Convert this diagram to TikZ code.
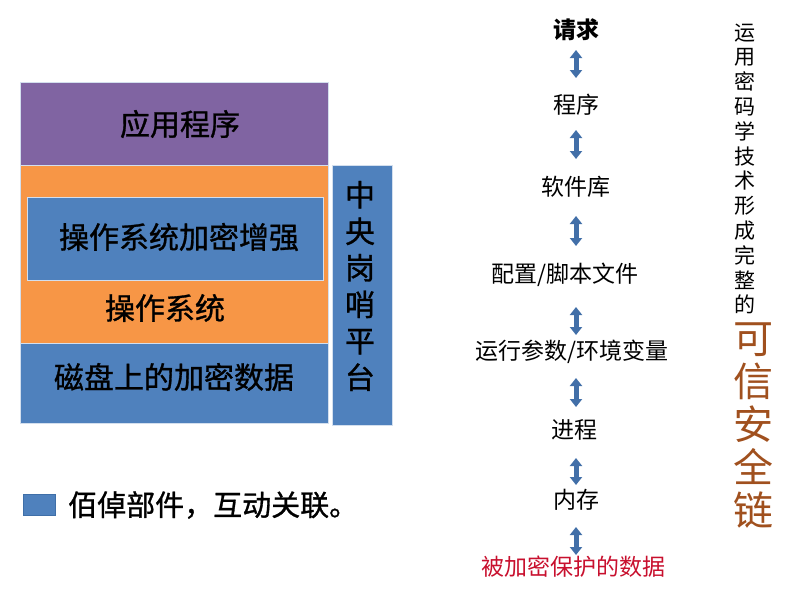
\documentclass[tikz,border=0pt]{standalone}
\usepackage{fontspec}
\setmainfont{Noto Sans CJK SC}
\newfontfamily\heavycjk[FakeBold=1]{Noto Sans CJK SC}
\usetikzlibrary{arrows.meta}
\definecolor{appPurple}{HTML}{8064A2}
\definecolor{osOrange}{HTML}{F79646}
\definecolor{layerBlue}{HTML}{4F81BD}
\definecolor{edgeBlue}{HTML}{3F6FA8}
\definecolor{arrowBlue}{HTML}{426FA8}
\definecolor{dataRed}{HTML}{C8102E}
\definecolor{chainBrown}{HTML}{A0501E}
\tikzset{
  layer/.style={draw=white!75!layerBlue, line width=0.5pt, inner sep=0pt, anchor=north west},
  bigtxt/.style={font=\heavycjk\fontsize{30}{36}\selectfont, inner sep=0pt},
  steptxt/.style={font=\fontsize{23}{26}\selectfont, inner sep=0pt},
  dblarrow/.style={draw=arrowBlue, line width=5pt, {Triangle[width=12pt,length=8pt]}-{Triangle[width=12pt,length=8pt]}},
}
\begin{document}
\begin{tikzpicture}[x=1pt,y=-1pt]
\useasboundingbox (0,0) rectangle (808,590);
% left layer stack
\node[layer, fill=appPurple, minimum width=308pt, minimum height=83pt] (app) at (20,82) {};
\node[layer, fill=osOrange, minimum width=308pt, minimum height=178pt] (os) at (20,165) {};
\node[layer, fill=layerBlue, minimum width=296pt, minimum height=83pt] (osenh) at (27,197) {};
\node[layer, fill=layerBlue, minimum width=308pt, minimum height=80pt] (disk) at (20,343) {};
\node[layer, fill=layerBlue, minimum width=60pt, minimum height=260pt] (sentinel) at (332,165) {};
\node[bigtxt] (apptxt) at (180,124) {应用程序};
\node[bigtxt] (osenhtxt) at (179,237) {操作系统加密增强};
\node[bigtxt] (ostxt) at (165,308) {操作系统};
\node[bigtxt] (disktxt) at (174,377) {磁盘上的加密数据};
\node[bigtxt, align=center, font=\heavycjk\fontsize{30}{36.5}\selectfont] (sentineltxt) at (360,286) {中\\央\\岗\\哨\\平\\台};
% legend
\node[draw=edgeBlue, fill=layerBlue, line width=0.8pt, minimum width=32pt, minimum height=21pt, inner sep=0pt] (legbox) at (39,505) {};
\node[inner sep=0pt, anchor=west, font=\heavycjk\fontsize{29}{32}\selectfont] (legtxt) at (68,505) {佰倬部件，互动关联。};
% chain column
\node[steptxt, font=\fontsize{23}{26}\selectfont\bfseries] (s1) at (576,30) {请求};
\node[steptxt] (s2) at (576,105) {程序};
\node[steptxt] (s3) at (576,187) {软件库};
\node[steptxt] (s4) at (565,275) {配置/脚本文件};
\node[steptxt] (s5) at (572,352) {运行参数/环境变量};
\node[steptxt] (s6) at (574,430) {进程};
\node[steptxt] (s7) at (576,500) {内存};
\node[steptxt, text=dataRed] (s8) at (573,567) {被加密保护的数据};
\coordinate (ax) at (576,0);
\draw[dblarrow, shorten <=20pt, shorten >=27pt] (s1.center -| ax) -- (s2.center -| ax);
\draw[dblarrow, shorten <=25pt, shorten >=28pt] (s2.center -| ax) -- (s3.center -| ax);
\draw[dblarrow, shorten <=29pt, shorten >=29pt] (s3.center -| ax) -- (s4.center -| ax);
\draw[dblarrow, shorten <=32pt, shorten >=17pt] (s4.center -| ax) -- (s5.center -| ax);
\draw[dblarrow, shorten <=26pt, shorten >=23pt] (s5.center -| ax) -- (s6.center -| ax);
\draw[dblarrow, shorten <=28pt, shorten >=15pt] (s6.center -| ax) -- (s7.center -| ax);
\draw[dblarrow, shorten <=27pt, shorten >=12pt] (s7.center -| ax) -- (s8.center -| ax);
% right column
\node[inner sep=0pt, align=center, font=\fontsize{21}{24.8}\selectfont] (sidetxt) at (745,169) {运\\用\\密\\码\\学\\技\\术\\形\\成\\完\\整\\的};
\node[inner sep=0pt, align=center, text=chainBrown, font=\fontsize{40}{43}\selectfont] (chaintxt) at (753,426) {可\\信\\安\\全\\链};
\end{tikzpicture}
\end{document}
